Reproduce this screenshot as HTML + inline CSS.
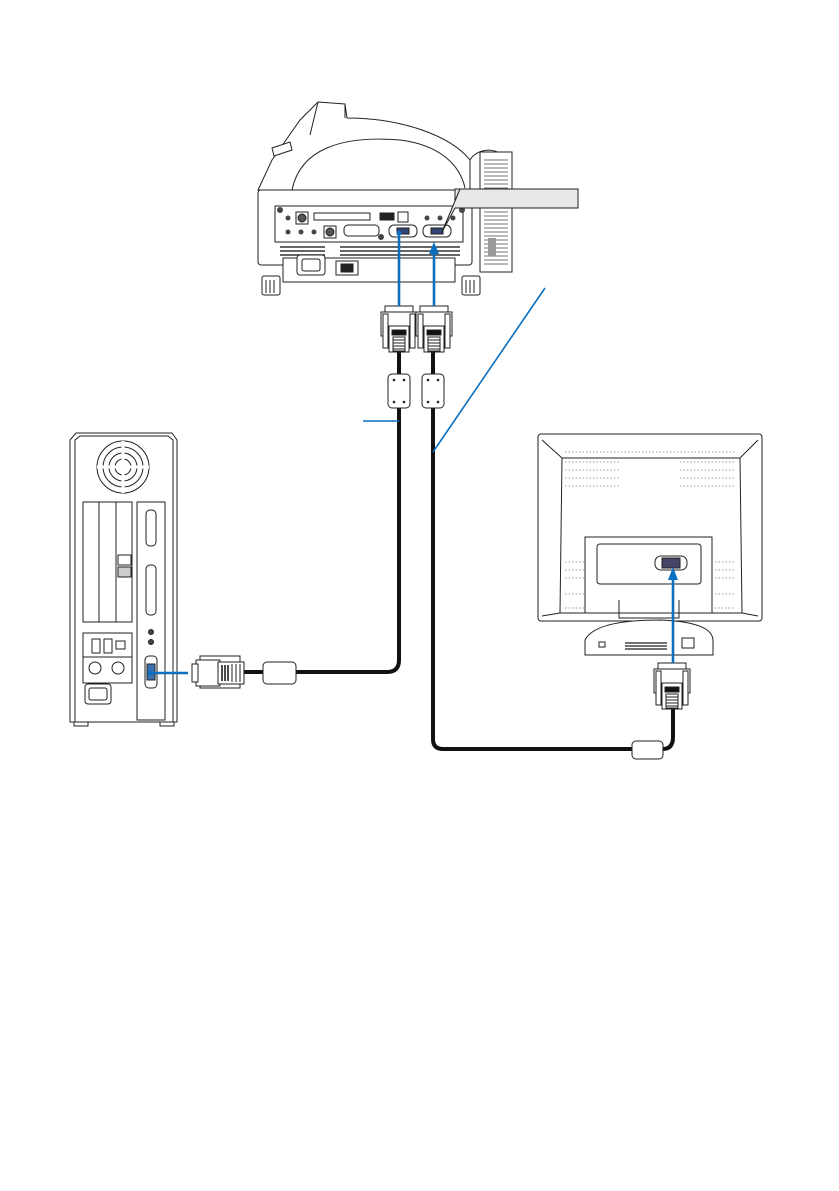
<!DOCTYPE html>
<html><head><meta charset="utf-8"><style>
html,body{margin:0;padding:0;background:#fff;width:839px;height:1191px;overflow:hidden}
svg{display:block}
</style></head><body>
<svg width="839" height="1191" viewBox="0 0 839 1191" xmlns="http://www.w3.org/2000/svg" fill="none" stroke="#222" stroke-width="1">
<defs>
<g id="vga">
  <!-- vertical plug, origin top-left, 36 wide -->
  <rect x="4" y="0" width="28" height="8" fill="#fff"/>
  <rect x="0" y="6" width="36" height="24" fill="#fff"/>
  <rect x="2" y="8" width="5" height="34" fill="#fff"/>
  <rect x="29" y="8" width="5" height="34" fill="#fff"/>
  <rect x="8" y="20" width="20" height="26" fill="#fff"/>
  <rect x="11" y="24" width="14" height="5" fill="#111"/>
  <rect x="12" y="31" width="12" height="14" fill="#fff"/>
  <path d="M12 34h12M12 37h12M12 40h12M12 43h12"/>
</g>
<g id="fer">
  <rect x="0" y="0" width="22" height="34" rx="4" fill="#fff"/>
  <circle cx="6" cy="6" r="0.8" fill="#222"/><circle cx="16" cy="6" r="0.8" fill="#222"/>
  <circle cx="6" cy="28" r="0.8" fill="#222"/><circle cx="16" cy="28" r="0.8" fill="#222"/>
</g>
</defs>

<!-- ===== PROJECTOR ===== -->
<path d="M272 160 L300 120 L318 102 L345 104 L347 118 C400 118 450 135 470 160 L470 190 L258 190 Z" fill="#fff"/>
<path d="M292 190 C300 150 340 135 400 140 C440 145 460 165 465 188"/>
<path d="M318 102 L310 135 M345 104 L345 118"/>
<path d="M272 148 l18 -6 l2 8 l-18 6 z" fill="#fff"/>
<path d="M470 160 C475 150 495 145 505 158"/>
<!-- fins -->
<rect x="480" y="152" width="32" height="120" fill="#fff"/>
<g stroke="#444" stroke-width="0.8">
<path d="M484 160h24M484 164h24M484 168h24M484 172h24M484 176h24M484 180h24M484 184h24M484 188h24M484 192h24M484 196h24M484 200h24M484 204h24M484 208h24M484 212h24M484 216h24M484 220h24M484 224h24M484 228h24M484 232h24M484 236h24M484 240h24M484 244h24M484 248h24M484 252h24M484 256h24M484 260h24M484 264h24"/>
</g>
<rect x="488" y="238" width="8" height="18" fill="#999" stroke="none"/>
<rect x="258" y="190" width="214" height="75" rx="3" fill="#fff"/>
<rect x="275" y="206" width="188" height="36" fill="#fff"/>
<rect x="283" y="258" width="172" height="24" fill="#fff"/>
<g fill="#444" stroke="none">
<circle cx="280" cy="210" r="3"/><circle cx="462" cy="210" r="3"/>
<circle cx="288" cy="218" r="2.5"/><circle cx="427" cy="218" r="2.5"/><circle cx="440" cy="218" r="2.5"/><circle cx="453" cy="218" r="2.5"/>
<circle cx="288" cy="232" r="2.5"/><circle cx="301" cy="232" r="2.5"/><circle cx="314" cy="232" r="2.5"/><circle cx="381" cy="237" r="3"/>
</g>
<rect x="296" y="212" width="12" height="12" fill="#fff"/><circle cx="302" cy="218" r="4" fill="#555"/>
<rect x="314" y="213" width="56" height="7" fill="#fff"/>
<rect x="380" y="213" width="14" height="7" fill="#222"/>
<rect x="398" y="212" width="10" height="10" fill="#fff"/>
<rect x="324" y="226" width="12" height="12" fill="#fff"/><circle cx="330" cy="232" r="4" fill="#555"/>
<rect x="344" y="225" width="35" height="11" rx="4" fill="#fff"/>
<rect x="389" y="225" width="28" height="12" rx="5" fill="#fff"/><rect x="397" y="228" width="12" height="6" fill="#347"/>
<rect x="423" y="225" width="28" height="12" rx="5" fill="#fff"/><rect x="431" y="228" width="12" height="6" fill="#347"/>
<g stroke="#333" stroke-width="1.4"><path d="M280 247h45M280 251h45M280 255h45M340 247h120M340 251h120M340 255h120"/></g>
<rect x="297" y="255" width="28" height="20" rx="3" fill="#fff"/>
<rect x="302" y="259" width="18" height="12" rx="2" fill="#fff"/>
<rect x="336" y="261" width="22" height="14" fill="#fff"/><rect x="341" y="264" width="12" height="8" fill="#222"/>
<rect x="262" y="276" width="18" height="19" rx="2" fill="#fff"/><path d="M266 280v13M270 280v13M274 280v13"/>
<rect x="462" y="276" width="18" height="19" rx="2" fill="#fff"/><path d="M466 280v13M470 280v13M474 280v13"/>
<!-- callout -->
<rect x="455" y="189" width="123" height="19" fill="#e8e8e8" stroke="#222"/>
<path d="M460 189 L442 232 L455 208" fill="#e8e8e8"/>

<!-- ===== CABLES ===== -->
<g stroke="#111" stroke-width="4" stroke-linecap="round">
<path d="M399 352 V660 Q399 672 387 672 H296"/>
<path d="M262 672 H245"/>
<path d="M433 352 V739 Q433 749 443 749 H632"/>
<path d="M663 749 Q673 749 673 737 V710"/>
</g>
<use href="#vga" x="381" y="306"/>
<use href="#vga" x="416" y="306"/>
<use href="#fer" x="388" y="374"/>
<use href="#fer" x="422" y="374"/>
<rect x="263" y="662" width="33" height="22" rx="4" fill="#fff"/>
<rect x="632" y="741" width="31" height="18" rx="4" fill="#fff"/>
<!-- horizontal plug to computer -->
<g>
<rect x="200" y="656" width="40" height="8" fill="#fff"/>
<rect x="200" y="680" width="40" height="8" fill="#fff"/>
<rect x="196" y="660" width="24" height="26" fill="#fff"/>
<rect x="192" y="664" width="6" height="18" fill="#fff"/>
<rect x="218" y="662" width="26" height="22" fill="#fff"/>
<path d="M222 665v16M225 665v16M228 665v16" stroke="#111" stroke-width="1.5"/>
<path d="M232 664v18M236 664v18M240 664v18"/>
</g>
<!-- monitor plug -->
<use href="#vga" x="654" y="663"/>

<!-- ===== COMPUTER ===== -->
<path d="M70 440 L76 433 L172 433 L177 440 L177 722 L70 722 Z" fill="#fff"/>
<path d="M75 722 V440 L80 436 L168 436 L173 440 V722"/>
<rect x="74" y="722" width="14" height="4"/><rect x="160" y="722" width="14" height="4"/>
<circle cx="123" cy="467" r="26"/>
<circle cx="123" cy="467" r="20"/>
<circle cx="123" cy="467" r="14"/>
<circle cx="123" cy="467" r="8"/>
<path d="M97 467h52M123 441v52" stroke="#fff" stroke-width="3"/>
<rect x="83" y="502" width="49" height="120" fill="#fff"/>
<path d="M99 502v120M116 502v120"/>
<rect x="118" y="555" width="13" height="10" fill="#fff"/><rect x="118" y="567" width="13" height="10" fill="#ccc"/>
<rect x="137" y="502" width="28" height="218" fill="#fff"/>
<rect x="146" y="510" width="10" height="36" rx="4" fill="#fff"/>
<rect x="146" y="565" width="10" height="50" rx="4" fill="#fff"/>
<circle cx="151" cy="632" r="2.5" fill="#444"/><circle cx="151" cy="642" r="2.5" fill="#444"/>
<rect x="145" y="656" width="12" height="32" rx="4" fill="#fff"/>
<rect x="147" y="664" width="8" height="16" fill="#3a6fb0"/>
<rect x="83" y="633" width="49" height="50" fill="#fff"/>
<path d="M83 657h49"/>
<rect x="92" y="639" width="8" height="14" fill="#fff"/><rect x="104" y="639" width="8" height="14" fill="#fff"/><rect x="116" y="641" width="9" height="8" fill="#fff"/>
<circle cx="95" cy="668" r="6" fill="#fff"/><circle cx="118" cy="668" r="6" fill="#fff"/>
<rect x="85" y="684" width="26" height="20" rx="3" fill="#fff"/>
<rect x="89" y="688" width="18" height="12" rx="2" fill="#fff"/>

<!-- ===== MONITOR ===== -->
<rect x="538" y="434" width="224" height="187" rx="3" fill="#fff"/>
<path d="M542 440 L562 458 L740 458 L758 440 M562 458 L560 613 M740 458 L742 613 M542 616 L560 613 L742 613 L758 616"/>
<g stroke="#999" stroke-width="1" stroke-dasharray="1.5 2">
<path d="M565 452h170M565 462h55M565 470h55M565 478h55M565 486h55M680 462h55M680 470h55M680 478h55M680 486h55M565 562h20M565 570h20M565 578h20M715 562h20M715 570h20M715 578h20M565 608h45M690 608h45M565 594h20M715 594h20"/>
</g>
<rect x="585" y="537" width="127" height="76" fill="#fff"/>
<rect x="597" y="544" width="104" height="40" rx="3" fill="#fff"/>
<rect x="655" y="556" width="32" height="14" rx="6" fill="#fff"/><rect x="662" y="558" width="18" height="10" fill="#446"/>
<path d="M619 600 V618 H679 V600"/>
<path d="M585 640 Q595 620 660 620 Q712 622 713 640 V655 H585 Z" fill="#fff"/>
<rect x="599" y="642" width="6" height="5" fill="#fff"/>
<path d="M625 643h42M625 646h42M625 649h42" stroke-width="1.2"/>
<rect x="682" y="638" width="12" height="10" fill="#fff"/>

<!-- ===== BLUE ===== -->
<g stroke="#0b6fc0" stroke-width="2.6">
<path d="M399 232 V306"/>
<path d="M434 252 V306"/>
<path d="M150 673 H188"/>
<path d="M673 578 V663"/>
</g>
<g stroke="#0b6fc0" stroke-width="1.6">
<path d="M363 421 H399"/>
<path d="M545 288 L433 452"/>
</g>
<path d="M434 242 L429 254 L439 254 Z" fill="#0b6fc0" stroke="none"/>
<path d="M673 567 L668 580 L678 580 Z" fill="#0b6fc0" stroke="none"/>
<circle cx="399" cy="233" r="2.5" fill="#0b6fc0" stroke="none"/>
<circle cx="150" cy="673" r="2.5" fill="#0b6fc0" stroke="none"/>
</svg>
</body></html>
